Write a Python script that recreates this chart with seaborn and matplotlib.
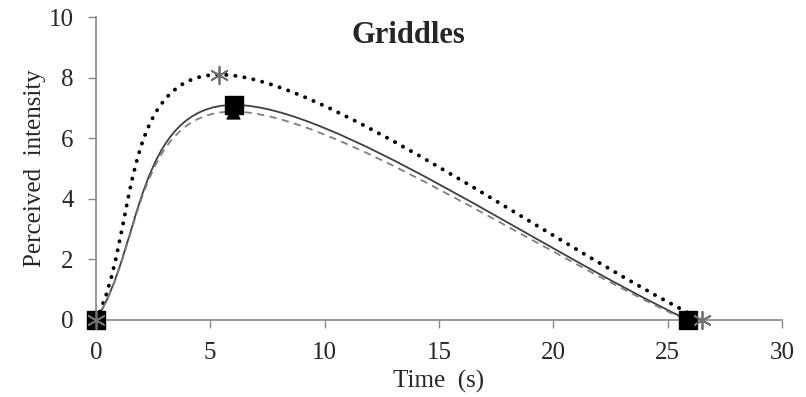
import numpy as np
import pandas as pd
import matplotlib
matplotlib.use("Agg")
import matplotlib.pyplot as plt
from matplotlib.path import Path
from matplotlib.patches import PathPatch
import seaborn as sns

# data
series_names = ["A", "B", "C"]
time_A = [0.0, 5.4, 26.5]
int_A = [0.0, 8.1, 0.0]
time_B = [0.0, 6.05, 25.9]
int_B = [0.0, 7.1, 0.0]
time_C = [0.0, 6.0, 25.8]
int_C = [0.0, 6.88, 0.0]
x_ticks = [0, 5, 10, 15, 20, 25, 30]
y_ticks = [0, 2, 4, 6, 8, 10]

sns.set_style("white")
plt.rcParams['font.family'] = ['Liberation Serif', 'DejaVu Serif']

fig = plt.figure(figsize=(8.06, 3.97), dpi=100)
ax = fig.add_axes([0.119, 0.194, 0.851, 0.763])


def smooth_path(xs, ys):
    pts = np.column_stack([xs, ys]).astype(float)
    n = len(pts)
    ext = np.vstack([2 * pts[0] - pts[1], pts, 2 * pts[-1] - pts[-2]])
    verts = [pts[0]]
    codes = [Path.MOVETO]
    for i in range(n - 1):
        p0, p1, p2, p3 = ext[i], ext[i + 1], ext[i + 2], ext[i + 3]
        c1 = p1 + (p2 - p0) / 6.0
        c2 = p2 - (p3 - p1) / 6.0
        verts += [c1, c2, p2]
        codes += [Path.CURVE4] * 3
    return Path(verts, codes)


styles = [
    (time_A, int_A, "black", 2.8, (0, (0.05, 2.3)), "round"),
    (time_B, int_B, "#404040", 1.3, "-", None),
    (time_C, int_C, "#7f7f7f", 1.3, (0, (4, 3)), None),
]
for xs, ys, col, lw, ls, cap in styles:
    patch = PathPatch(smooth_path(xs, ys), facecolor="none", edgecolor=col,
                      lw=lw, ls=ls, zorder=2)
    if cap:
        patch.set_capstyle(cap)
    ax.add_patch(patch)

df = pd.concat([
    pd.DataFrame({"t": time_C, "v": int_C, "s": "C"}),
    pd.DataFrame({"t": time_B, "v": int_B, "s": "B"}),
    pd.DataFrame({"t": time_A, "v": int_A, "s": "A"}),
])
sns.scatterplot(data=df[df.s == "C"], x="t", y="v", marker="^", s=90, color="black",
                edgecolor="black", ax=ax, zorder=3, legend=False)
sns.scatterplot(data=df[df.s == "B"], x="t", y="v", marker="s", s=150, color="black",
                edgecolor="black", ax=ax, zorder=4, legend=False)
sns.scatterplot(data=df[df.s == "A"], x="t", y="v", marker=(6, 2, 0), s=160, color="#707070",
                linewidth=1.3, ax=ax, zorder=5, legend=False)

ax.set_xlim(0, 30)
ax.set_ylim(0, 10)
ax.set_xticks(x_ticks)
ax.set_yticks(y_ticks)
ax.set_xlabel("Time  (s)", fontsize=18, labelpad=4)
ax.set_ylabel("Perceived  intensity", fontsize=18, labelpad=2)
ax.tick_params(axis="both", labelsize=18, length=6, width=1, color="#888888",
               direction="out", bottom=True, left=True)
ax.tick_params(axis="x", pad=10)
ax.tick_params(axis="y", pad=10)
for side in ["top", "right"]:
    ax.spines[side].set_visible(False)
for side in ["left", "bottom"]:
    ax.spines[side].set_color("#888888")
    ax.spines[side].set_linewidth(1.2)
ax.text(0.456, 0.94, "Griddles", transform=ax.transAxes, ha="center", va="center",
        fontsize=22, fontweight="bold")
for c in ax.collections:
    c.set_clip_on(False)

fig.savefig("out.png", dpi=100)
